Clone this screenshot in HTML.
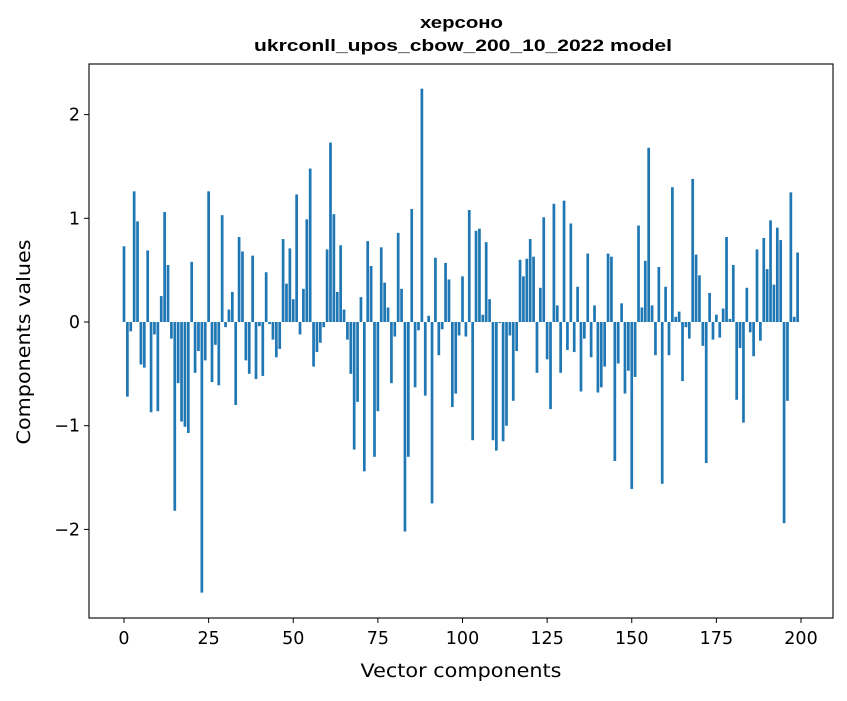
<!DOCTYPE html>
<html><head><meta charset="utf-8"><style>
body{margin:0;background:#fff}
svg text{font-family:"DejaVu Sans","Liberation Sans",sans-serif;fill:#000}
svg text.ttl{font-family:"Liberation Sans","DejaVu Sans",sans-serif}
</style></head><body>
<svg id="chart" width="847" height="696" viewBox="0 0 847 696" xmlns="http://www.w3.org/2000/svg">
<rect width="847" height="696" fill="#fff"/>
<text class="ttl" x="461.5" y="28" text-anchor="middle" font-size="17" font-weight="bold" textLength="83" lengthAdjust="spacingAndGlyphs">херсоно</text>
<text class="ttl" x="463" y="51" text-anchor="middle" font-size="17" font-weight="bold" textLength="418" lengthAdjust="spacingAndGlyphs">ukrconll_upos_cbow_200_10_2022 model</text>
<g id="bars"></g>
<g id="axes"></g>
<rect x="89" y="64" width="744" height="554" fill="none" stroke="#000" stroke-width="1.1"/>
<text x="461" y="677" text-anchor="middle" font-size="19" textLength="201" lengthAdjust="spacingAndGlyphs">Vector components</text>
<text transform="translate(30,342) rotate(-90)" text-anchor="middle" font-size="19" textLength="205" lengthAdjust="spacingAndGlyphs">Components values</text>
</svg>
<script>
const values = [0.73,-0.72,-0.09,1.26,0.97,-0.41,-0.44,0.69,-0.87,-0.12,
-0.86,0.25,1.06,0.55,-0.16,-1.82,-0.59,-0.96,-1.01,-1.07,
0.58,-0.49,-0.28,-2.61,-0.37,1.26,-0.58,-0.22,-0.61,1.03,
-0.05,0.12,0.29,-0.80,0.82,0.68,-0.37,-0.50,0.64,-0.55,
-0.04,-0.52,0.48,-0.02,-0.17,-0.34,-0.26,0.80,0.37,0.71,
0.22,1.23,-0.12,0.32,0.99,1.48,-0.43,-0.29,-0.20,-0.05,
0.70,1.73,1.04,0.29,0.74,0.12,-0.17,-0.50,-1.23,-0.77,
0.24,-1.44,0.78,0.54,-1.30,-0.86,0.72,0.38,0.14,-0.59,
-0.14,0.86,0.32,-2.02,-1.30,1.09,-0.63,-0.08,2.25,-0.71,
0.06,-1.75,0.62,-0.32,-0.07,0.57,0.41,-0.82,-0.69,-0.13,
0.44,-0.14,1.08,-1.14,0.88,0.90,0.07,0.77,0.22,-1.14,
-1.24,-0.01,-1.15,-1.00,-0.13,-0.76,-0.28,0.60,0.44,0.61,
0.80,0.63,-0.49,0.33,1.01,-0.36,-0.84,1.14,0.16,-0.49,
1.17,-0.27,0.95,-0.29,0.34,-0.67,-0.16,0.66,-0.34,0.16,
-0.68,-0.63,-0.43,0.66,0.63,-1.34,-0.40,0.18,-0.69,-0.47,
-1.61,-0.53,0.93,0.14,0.59,1.68,0.16,-0.32,0.53,-1.56,
0.34,-0.32,1.30,0.05,0.10,-0.57,-0.05,-0.16,1.38,0.65,
0.45,-0.23,-1.36,0.28,-0.17,0.07,-0.15,0.13,0.82,0.03,
0.55,-0.75,-0.25,-0.97,0.33,-0.10,-0.33,0.70,-0.18,0.81,
0.51,0.98,0.36,0.91,0.79,-1.94,-0.76,1.25,0.05,0.67];
const xTicks = [0,25,50,75,100,125,150,175,200];
const yTicks = [2,1,0,-1,-2];
const yTickLabels = ["2","1","0","\u22121","\u22122"];

const NS="http://www.w3.org/2000/svg";
function xs(v){return 124+v*3.385;}
function ys(v){return 322-v*103.7;}
const bars=document.getElementById('bars');
values.forEach((v,i)=>{
  const r=document.createElementNS(NS,'rect');
  const w=3.385*0.8;
  r.setAttribute('x',xs(i)-w/2);
  r.setAttribute('width',w);
  r.setAttribute('y',Math.min(ys(v),ys(0)));
  r.setAttribute('height',Math.abs(ys(v)-ys(0)));
  r.setAttribute('fill','#1f77b4');
  
  
  bars.appendChild(r);
});
const axes=document.getElementById('axes');
xTicks.forEach(t=>{
  const l=document.createElementNS(NS,'line');
  l.setAttribute('x1',xs(t));l.setAttribute('x2',xs(t));
  l.setAttribute('y1',618);l.setAttribute('y2',623);
  l.setAttribute('stroke','#000');
  
  
  axes.appendChild(l);
  const tx=document.createElementNS(NS,'text');
  tx.setAttribute('x',xs(t));tx.setAttribute('y',644);
  tx.setAttribute('text-anchor','middle');tx.setAttribute('font-size','17.5');
  tx.textContent=String(t);
  
  
  axes.appendChild(tx);
});
yTicks.forEach((t,i)=>{
  const l=document.createElementNS(NS,'line');
  l.setAttribute('x1',84);l.setAttribute('x2',89);
  l.setAttribute('y1',ys(t));l.setAttribute('y2',ys(t));
  l.setAttribute('stroke','#000');
  
  
  axes.appendChild(l);
  const tx=document.createElementNS(NS,'text');
  tx.setAttribute('x',80);tx.setAttribute('y',ys(t)+6);
  tx.setAttribute('text-anchor','end');tx.setAttribute('font-size','17.5');
  tx.textContent=yTickLabels[i];
  
  
  axes.appendChild(tx);
});
</script>
</body></html>
